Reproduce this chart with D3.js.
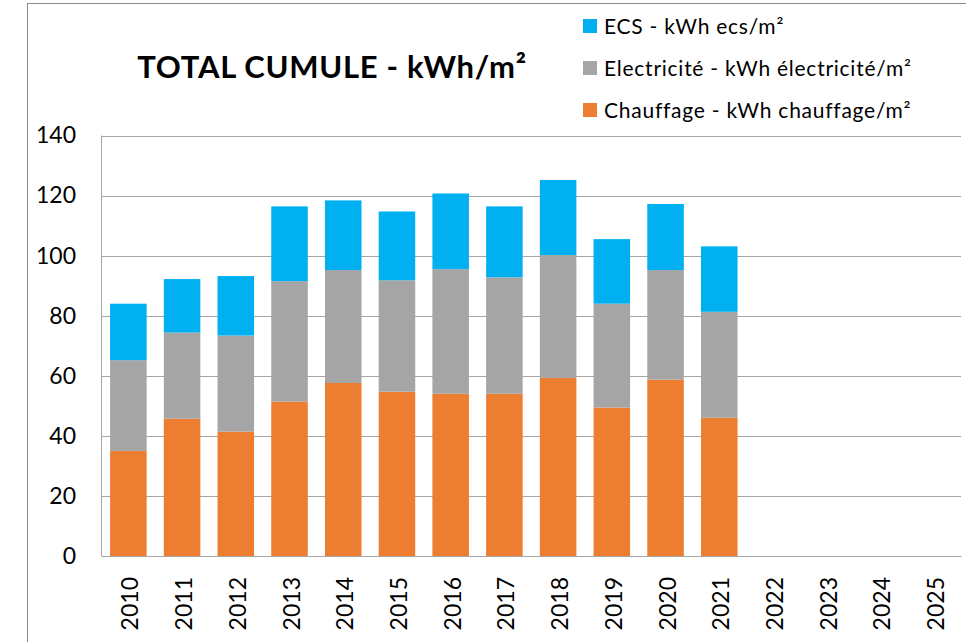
<!DOCTYPE html>
<html>
<head>
<meta charset="utf-8">
<script src="https://cdn.jsdelivr.net/npm/d3@7"></script>
<style>
  body { margin: 0; background: #fff; }
  svg { display: block; font-family: Lato, "Open Sans", sans-serif; }
  .grid line { stroke: #a6a6a6; stroke-width: 1; }
</style>
</head>
<body>
<svg id="chart" width="966" height="642"></svg>
<script>
/* =========================
   DATA
========================= */
const years = ["2010", "2011", "2012", "2013", "2014", "2015", "2016", "2017",
  "2018", "2019", "2020", "2021", "2022", "2023", "2024", "2025"];

// kWh/m² per year (2022-2025 empty)
const chauffage = [35.0, 45.7, 41.4, 51.4, 57.6, 54.7, 54.0, 54.0, 59.3, 49.4, 58.7, 46.0];
const electricite = [30.2, 28.7, 32.0, 40.1, 37.6, 37.1, 41.5, 38.8, 40.9, 34.6, 36.5, 35.3];
const ecs = [18.8, 17.8, 19.8, 24.9, 23.2, 22.9, 25.2, 23.6, 25.0, 21.5, 22.0, 21.8];

const yTicks = [0, 20, 40, 60, 80, 100, 120, 140];

const series = [
  { key: "chauffage", label: "Chauffage - kWh chauffage/m²", color: "#ED7D31", values: chauffage },
  { key: "electricite", label: "Electricité - kWh électricité/m²", color: "#A5A5A5", values: electricite },
  { key: "ecs", label: "ECS - kWh ecs/m²", color: "#00B0F0", values: ecs }
];

/* =========================
   SETUP
========================= */
const svg = d3.select("#chart");

const plot = { left: 101.5, top: 135.5, right: 961, bottom: 556 };

const x = d3.scaleBand()
  .domain(years)
  .range([plot.left, plot.right])
  .paddingInner(0.32)
  .paddingOuter(0.16);

const y = d3.scaleLinear()
  .domain([0, 140])
  .range([plot.bottom, plot.top]);

// outer chart frame
svg.append("rect")
  .attr("x", 27.5).attr("y", 3.5)
  .attr("width", 1000).attr("height", 1000)
  .attr("fill", "none")
  .attr("stroke", "#8c8c8c");

/* ===== GRID ===== */
svg.append("g")
  .attr("class", "grid")
  .selectAll("line")
  .data(yTicks)
  .join("line")
  .attr("x1", plot.left)
  .attr("x2", plot.right)
  .attr("y1", (d) => Math.round(y(d)) + 0.5)
  .attr("y2", (d) => Math.round(y(d)) + 0.5);

// left border of plot area
svg.append("line")
  .attr("x1", plot.left).attr("x2", plot.left)
  .attr("y1", plot.top).attr("y2", plot.bottom)
  .attr("stroke", "#a6a6a6");

/* ===== BARS ===== */
const table = years.map((yr, i) => ({
  year: yr,
  chauffage: chauffage[i] || 0,
  electricite: electricite[i] || 0,
  ecs: ecs[i] || 0
})).filter((d, i) => i < chauffage.length);

const stack = d3.stack().keys(series.map((s) => s.key));
const stacked = stack(table);

svg.append("g")
  .selectAll("g")
  .data(stacked)
  .join("g")
  .attr("fill", (d, i) => series[i].color)
  .selectAll("rect")
  .data((d) => d)
  .join("rect")
  .attr("x", (d) => x(d.data.year))
  .attr("width", x.bandwidth())
  .attr("y", (d) => y(d[1]))
  .attr("height", (d) => y(d[0]) - y(d[1]));

/* ===== AXES ===== */
const yAxis = d3.axisLeft(y).tickValues(yTicks).tickSize(0).tickPadding(0);
svg.append("g")
  .attr("transform", "translate(76,0)")
  .call(yAxis)
  .call((g) => g.select(".domain").remove())
  .selectAll("text")
  .attr("font-family", "Lato, sans-serif")
  .attr("font-size", 23)
  .attr("fill", "#000");

const xAxis = d3.axisBottom(x).tickSize(0).tickPadding(0);
svg.append("g")
  .attr("transform", `translate(0,${plot.bottom})`)
  .call(xAxis)
  .call((g) => g.select(".domain").attr("stroke", "#a6a6a6"))
  .selectAll("text")
  .attr("font-family", "Lato, sans-serif")
  .attr("font-size", 23)
  .attr("fill", "#000")
  .attr("text-anchor", "end")
  .attr("dy", "0.35em")
  .attr("transform", (d) => `translate(2,21) rotate(-90)`)
  .attr("x", 0)
  .attr("y", 0);

/* ===== TITLE ===== */
svg.append("text")
  .attr("x", 332)
  .attr("y", 78)
  .attr("text-anchor", "middle")
  .attr("font-family", "Lato, sans-serif")
  .attr("font-weight", "bold")
  .attr("font-size", 31)
  .attr("letter-spacing", 0.7)
  .text("TOTAL CUMULE - kWh/m²");

/* ===== LEGEND ===== */
const legendRows = series.slice().reverse();
const legend = svg.append("g")
  .selectAll("g")
  .data(legendRows)
  .join("g")
  .attr("transform", (d, i) => `translate(583,${26 + i * 42})`);

legend.append("rect")
  .attr("x", 0).attr("y", -7)
  .attr("width", 14).attr("height", 14)
  .attr("fill", (d) => d.color);

legend.append("text")
  .attr("x", 21)
  .attr("dy", "0.36em")
  .attr("font-family", "Lato, sans-serif")
  .attr("font-size", 21)
  .attr("letter-spacing", 0.75)
  .attr("fill", "#000")
  .text((d) => d.label);
</script>
</body>
</html>
